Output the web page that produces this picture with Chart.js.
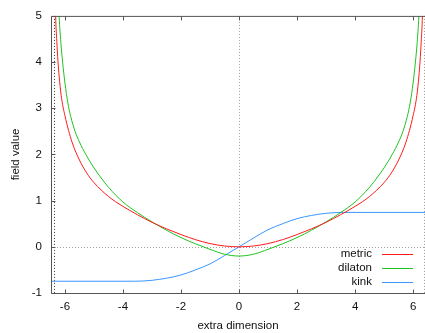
<!DOCTYPE html>
<html>
<head>
<meta charset="utf-8">
<script src="https://cdn.jsdelivr.net/npm/chart.js@4/dist/chart.umd.min.js"></script>
<style>
  html, body { margin: 0; padding: 0; background: #fff; overflow: hidden; }
  canvas { display: block; }
</style>
</head>
<body>
<canvas id="grafico" width="425" height="333"></canvas>
<script>
// valores
const metricX = [-6.36, -6.32, -6.28, -6.24, -6.2, -6.13, -6.0, -5.75, -5.5, -5.25, -5.0, -4.75, -4.5, -4.25, -4.0, -3.5, -3.0, -2.5, -2.0, -1.5, -1.0, -0.5, 0,
  0.5, 1.0, 1.5, 2.0, 2.5, 3.0, 3.5, 4.0, 4.25, 4.5, 4.75, 5.0, 5.25, 5.5, 5.75, 6.0, 6.13, 6.2, 6.24, 6.28, 6.32, 6.36];
const metricY = [6.3, 5.0, 4.45, 4.02, 3.7, 3.28, 2.84, 2.26, 1.88, 1.6, 1.39, 1.23, 1.09, 0.975, 0.875, 0.695, 0.53, 0.39, 0.265, 0.155, 0.07, 0.018, 0,
  0.018, 0.07, 0.155, 0.265, 0.39, 0.53, 0.695, 0.875, 0.975, 1.09, 1.23, 1.39, 1.6, 1.88, 2.26, 2.84, 3.28, 3.7, 4.02, 4.45, 5.0, 6.3];

const dilatonX = [-6.26, -6.2, -6.14, -6.08, -6.0, -5.9, -5.8, -5.65, -5.5, -5.28, -5.0, -4.75, -4.5, -4.0, -3.5, -3.0, -2.5, -2.0, -1.5, -1.0, -0.5, 0,
  0.5, 1.0, 1.5, 2.0, 2.5, 3.0, 3.5, 4.0, 4.5, 4.75, 5.0, 5.28, 5.5, 5.65, 5.8, 5.9, 6.0, 6.08, 6.14, 6.2, 6.26];
const dilatonY = [6.0, 5.0, 4.42, 4.0, 3.55, 3.12, 2.82, 2.5, 2.27, 2.0, 1.71, 1.49, 1.29, 0.97, 0.74, 0.54, 0.36, 0.2, 0.065, -0.055, -0.16, -0.2,
  -0.16, -0.055, 0.065, 0.2, 0.36, 0.54, 0.74, 0.97, 1.29, 1.49, 1.71, 2.0, 2.27, 2.5, 2.82, 3.12, 3.55, 4.0, 4.42, 5.0, 6.0];

const kinkX = [-6.5, -3.6, -3.3, -3.0, -2.5, -2.0, -1.5, -1.0, -0.5, 0, 0.5, 1.0, 1.5, 2.0, 2.5, 3.0, 3.3, 3.6, 6.5];
const kinkY = [-0.745, -0.745, -0.74, -0.725, -0.68, -0.61, -0.5, -0.37, -0.19, 0, 0.19, 0.37, 0.5, 0.61, 0.68, 0.725, 0.74, 0.745, 0.745];

const seriesNames = ["metric", "dilaton", "kink"];
const seriesColors = ["#ff1a1a", "#1ec31e", "#3a96ff"];
const xTicks = [-6, -4, -2, 0, 2, 4, 6];
const yTicks = [-1, 0, 1, 2, 3, 4, 5];
const poles = [-6.38, 6.38];

const fonte = { family: "'Liberation Sans', Arial, sans-serif", size: 11.5 };

const pontos = (xs, ys) => xs.map((x, i) => ({ x: x, y: ys[i] }));

const linha = (ctx, x1, y1, x2, y2) => {
  ctx.beginPath();
  ctx.moveTo(x1, y1);
  ctx.lineTo(x2, y2);
  ctx.stroke();
};

const moldura = {
  id: "moldura",
  beforeDatasetsDraw(chart) {
    const { ctx, chartArea: a, scales: { x, y } } = chart;
    ctx.save();
    ctx.lineWidth = 1;
    ctx.setLineDash([1, 2]);
    ctx.strokeStyle = "#a0a0a0";
    const x0 = Math.round(x.getPixelForValue(0)) + 0.5;
    const y0 = Math.round(y.getPixelForValue(0)) + 0.5;
    linha(ctx, x0, a.top, x0, a.bottom);
    linha(ctx, a.left, y0, a.right, y0);
    poles.forEach((p, i) => {
      ctx.strokeStyle = i === 0 ? "#333" : "#999";
      const px = Math.round(x.getPixelForValue(p)) + 0.5;
      linha(ctx, px, a.top, px, a.bottom);
    });
    ctx.restore();
  },
  afterDatasetsDraw(chart) {
    const { ctx, chartArea: a, scales: { x, y } } = chart;
    ctx.save();
    ctx.lineWidth = 1;
    ctx.strokeStyle = "#555";
    const l = a.left + 0.5, t = a.top + 0.5, b = a.bottom + 0.5;
    linha(ctx, l, t, a.right, t);
    linha(ctx, l, t, l, b);
    linha(ctx, l, b, a.right, b);
    xTicks.forEach((v) => {
      const px = Math.round(x.getPixelForValue(v)) + 0.5;
      linha(ctx, px, b, px, b - 4);
      linha(ctx, px, t, px, t + 4);
    });
    yTicks.forEach((v) => {
      const py = Math.round(y.getPixelForValue(v)) + 0.5;
      linha(ctx, l, py, l + 4, py);
    });

    // legenda
    ctx.font = fonte.size + "px " + fonte.family;
    ctx.textAlign = "right";
    ctx.textBaseline = "middle";
    seriesNames.forEach((nome, i) => {
      const yy = 254 + i * 14;
      ctx.fillStyle = "#111";
      ctx.fillText(nome, 372, yy);
      ctx.strokeStyle = seriesColors[i];
      linha(ctx, 382, yy + 0.5, 413, yy + 0.5);
    });
    ctx.restore();
  },
};

const ctx = document.getElementById("grafico").getContext("2d");

const chart = new Chart(ctx, {
  type: "scatter",
  data: {
    datasets: [
      { label: seriesNames[0], data: pontos(metricX, metricY), borderColor: seriesColors[0] },
      { label: seriesNames[1], data: pontos(dilatonX, dilatonY), borderColor: seriesColors[1] },
      { label: seriesNames[2], data: pontos(kinkX, kinkY), borderColor: seriesColors[2] },
    ].map((d) => ({ ...d, showLine: true, pointRadius: 0, borderWidth: 1, cubicInterpolationMode: "monotone" })),
  },
  options: {
    responsive: false,
    animation: false,
    layout: { padding: { top: 11, right: 0, bottom: 0, left: 0 } },
    plugins: { legend: { display: false }, tooltip: { enabled: false } },
    scales: {
      x: {
        type: "linear",
        min: -6.48,
        max: 6.41,
        afterBuildTicks: (s) => { s.ticks = xTicks.map((v) => ({ value: v })); },
        afterFit: (s) => { s.height = 40; },
        grid: { display: false, drawTicks: false },
        border: { display: false },
        ticks: { color: "#111", font: fonte, padding: 7, maxRotation: 0 },
        title: { display: true, text: "extra dimension", color: "#111", font: fonte, padding: { top: 0, bottom: 0 } },
      },
      y: {
        type: "linear",
        min: -1,
        max: 5,
        afterBuildTicks: (s) => { s.ticks = yTicks.map((v) => ({ value: v })); },
        afterFit: (s) => { s.width = 51; },
        grid: { display: false, drawTicks: false },
        border: { display: false },
        ticks: { color: "#111", font: fonte, padding: 9 },
        title: { display: true, text: "field value", color: "#111", font: fonte, padding: { top: 9, bottom: 0 } },
      },
    },
  },
  plugins: [moldura],
});
</script>
</body>
</html>
